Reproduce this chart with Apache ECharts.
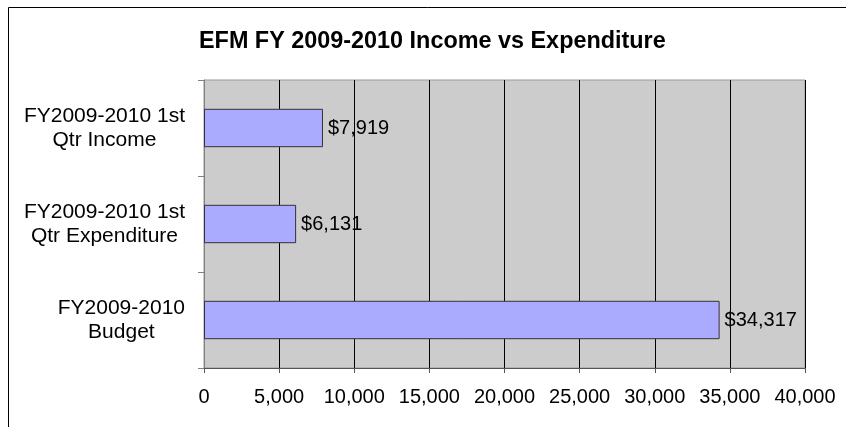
<!DOCTYPE html>
<html lang="en">
<head>
    <meta charset="UTF-8">
    <title>EFM FY 2009-2010 Income vs Expenditure</title>
</head>
<body style="margin:0;">
<div id="container" style="width: 846px;height:427px;"></div>

<script src="https://cdn.jsdelivr.net/npm/echarts@6/dist/echarts.min.js"></script>
<script type="text/javascript">

// categories, top to bottom
var categories = ['FY2009-2010 1st\nQtr Income', 'FY2009-2010 1st\nQtr Expenditure', 'FY2009-2010\nBudget'];
// values in dollars
var amounts = [7919, 6131, 34317];
// x axis ticks
var tickMin = 0;
var tickMax = 40000;
var tickStep = 5000;

var font = 'Liberation Sans, Arial, sans-serif';

function commas(n) {
  return String(n).replace(/\B(?=(\d{3})+(?!\d))/g, ',');
}

var dom = document.getElementById("container");
var myChart = echarts.init(dom);
var option = {
    backgroundColor: '#fff',
    animation: false,
    title: {
        text: 'EFM FY 2009-2010 Income vs Expenditure',
        left: 194,
        top: 25,
        textStyle: {fontFamily: font, fontSize: 23.4, fontWeight: 'bold', color: '#000'}
    },
    // outer chart border (runs off right and bottom edges)
    graphic: [{
        type: 'rect',
        shape: {x: 8.5, y: 7.5, width: 900, height: 500},
        style: {fill: 'none', stroke: '#000', lineWidth: 1},
        silent: true
    }],
    grid: {
        left: 204,
        right: 41,
        top: 80,
        bottom: 59,
        containLabel: false,
        outerBoundsMode: 'none',
        show: true,
        backgroundColor: '#CCCCCC',
        borderColor: '#999',
        borderWidth: 1
    },
    xAxis: {
        type: 'value',
        min: tickMin,
        max: tickMax,
        interval: tickStep,
        axisLine: {show: true, lineStyle: {color: '#555', width: 1}},
        axisTick: {show: true, length: 5, lineStyle: {color: '#555'}},
        splitLine: {show: true, lineStyle: {color: '#000', width: 1}},
        axisLabel: {
            margin: 19,
            color: '#000',
            fontFamily: font,
            fontSize: 20,
            formatter: function (v) { return commas(v); }
        }
    },
    yAxis: {
        type: 'category',
        inverse: true,
        data: categories,
        axisLine: {show: true, lineStyle: {color: '#808080'}},
        axisTick: {show: true, length: 6, lineStyle: {color: '#808080'}},
        axisLabel: {
            align: 'right',
            margin: 19,
            formatter: function (v) {
              return v.split('\n').map(function (s) { return '{c|' + s + '}'; }).join('\n');
            },
            rich: {
                c: {align: 'center', fontFamily: font, fontSize: 21, lineHeight: 24, color: '#000'}
            }
        }
    },
    series: [{
        type: 'bar',
        data: amounts,
        barWidth: '40%',
        itemStyle: {color: '#AAAAFF', borderColor: '#333', borderWidth: 1},
        label: {
            show: true,
            position: 'right',
            distance: 5,
            color: '#000',
            fontFamily: font,
            fontSize: 20,
            formatter: function (p) { return '$' + commas(p.value); }
        }
    }]
};

myChart.setOption(option);
</script>
</body>
</html>
